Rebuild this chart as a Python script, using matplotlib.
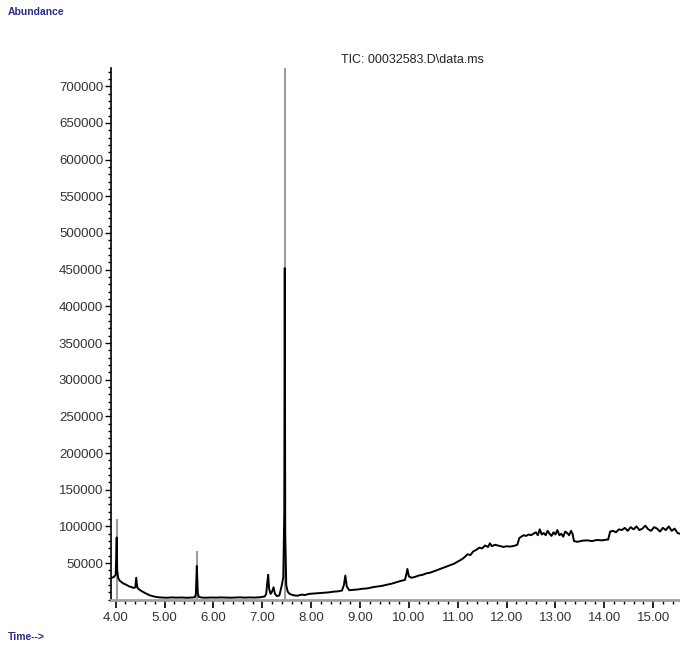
import matplotlib.pyplot as plt
from matplotlib.ticker import MultipleLocator, FormatStrFormatter

# retention time (min) and abundance
seg_start_t = [3.92, 3.96, 4.00, 4.02, 4.03, 4.05, 4.08, 4.12, 4.16, 4.20, 4.24, 4.28,
               4.32, 4.36, 4.40, 4.42, 4.44, 4.48, 4.55, 4.62, 4.70, 4.78, 4.86, 4.95]
seg_start_v = [30000, 31000, 34000, 85000, 40000, 30000, 26000, 24000, 22000, 21000, 19500, 18000,
               17500, 16000, 17000, 30000, 17000, 14000, 11000, 8500, 6000, 4500, 3500, 3000]

seg_flat_t = [5.05, 5.15, 5.25, 5.35, 5.45, 5.55, 5.62, 5.64, 5.66, 5.68, 5.70, 5.76, 5.85,
              5.95, 6.05, 6.15, 6.25, 6.35, 6.45, 6.55, 6.65, 6.75, 6.85, 6.95, 7.05]
seg_flat_v = [2800, 3200, 2900, 3100, 2700, 3000, 3300, 8000, 46000, 9000, 4000, 3000, 2800,
              3100, 2900, 3200, 3000, 2800, 3100, 3300, 2900, 3200, 3000, 3400, 4500]

seg_main_t = [7.08, 7.10, 7.12, 7.14, 7.17, 7.20, 7.23, 7.26, 7.30, 7.35, 7.40, 7.43,
              7.45, 7.46, 7.47, 7.49, 7.52, 7.56, 7.60]
seg_main_v = [8000, 22000, 34000, 15000, 8000, 11000, 17000, 8000, 5000, 6000, 20000, 31000,
              120000, 452000, 90000, 20000, 11000, 8000, 7000]

seg_rise_t = [7.65, 7.72, 7.80, 7.88, 7.95, 8.05, 8.15, 8.25, 8.35, 8.45, 8.55, 8.63, 8.67,
              8.70, 8.73, 8.78, 8.85, 8.95, 9.05, 9.15, 9.25, 9.35, 9.45, 9.55, 9.65, 9.75,
              9.85, 9.92, 9.95, 9.97, 10.00, 10.05, 10.12, 10.20, 10.28, 10.36, 10.44, 10.52,
              10.60, 10.68, 10.76, 10.84, 10.92, 11.00, 11.08, 11.14, 11.20, 11.26, 11.32,
              11.38, 11.44, 11.50, 11.56, 11.62, 11.66, 11.70, 11.76, 11.82, 11.88, 11.94,
              12.00, 12.06, 12.12, 12.18, 12.22]
seg_rise_v = [6000, 5500, 7000, 6500, 8000, 8500, 9000, 9500, 10000, 11000, 11500, 12500, 20000,
              33000, 18000, 13000, 13500, 14000, 15000, 15500, 17000, 18000, 19000, 20500, 22000, 24000,
              26000, 27000, 35000, 42000, 32000, 30000, 31000, 33000, 34000, 36000, 37000, 39000,
              41000, 43000, 45000, 47000, 49000, 52000, 55000, 58000, 62000, 61000, 66000,
              68000, 71000, 70000, 74000, 72000, 77000, 73000, 75000, 74000, 73000, 72000,
              73000, 72500, 73000, 74000, 75000]

seg_high1_t = [12.26, 12.30, 12.35, 12.40, 12.45, 12.50, 12.55, 12.60, 12.64, 12.68, 12.72,
               12.76, 12.80, 12.84, 12.88, 12.92, 12.96, 13.00, 13.04, 13.08, 13.12, 13.16,
               13.20, 13.24, 13.28, 13.32, 13.35]
seg_high1_v = [84000, 86000, 88000, 87000, 89000, 88000, 90000, 92000, 88000, 96000, 89000,
               91000, 88000, 94000, 90000, 87000, 92000, 89000, 95000, 88000, 90000, 86000,
               93000, 91000, 88000, 94000, 90000]

seg_dip_t = [13.38, 13.45, 13.55, 13.65, 13.75, 13.85, 13.95, 14.05, 14.08]
seg_dip_v = [80000, 79000, 80500, 81000, 80000, 81500, 81000, 82000, 82000]

seg_high2_t = [14.12, 14.18, 14.24, 14.30, 14.36, 14.42, 14.48, 14.54, 14.60, 14.66, 14.72,
               14.78, 14.84, 14.90, 14.96, 15.02, 15.08, 15.14, 15.20, 15.26, 15.32, 15.38,
               15.44, 15.50, 15.55]
seg_high2_v = [93000, 94000, 92000, 96000, 95000, 98000, 94000, 99000, 96000, 100000, 95000,
               97000, 101000, 96000, 94000, 99000, 97000, 93000, 98000, 95000, 100000, 94000,
               97000, 91000, 90000]

# apex values of the three big peaks (grey overdraw in the original)
apex_t = [4.02, 5.66, 7.46]
apex_v = [110000, 66000, 725000]

times = seg_start_t + seg_flat_t + seg_main_t + seg_rise_t + seg_high1_t + seg_dip_t + seg_high2_t
abund = seg_start_v + seg_flat_v + seg_main_v + seg_rise_v + seg_high1_v + seg_dip_v + seg_high2_v

label_blue = '#2b2b8c'

fig = plt.figure(figsize=(6.8, 6.47), dpi=100)
ax = fig.add_axes([0.163, 0.073, 0.837, 0.822])

ax.vlines(apex_t, 0, apex_v, color='#9a9a9a', lw=1.4, zorder=1)
ax.plot(times, abund, color='black', lw=1.4, zorder=2)

ax.set_xlim(3.9, 15.55)
ax.set_ylim(0, 725000)

ax.xaxis.set_major_locator(MultipleLocator(1.0))
ax.xaxis.set_minor_locator(MultipleLocator(0.2))
ax.xaxis.set_major_formatter(FormatStrFormatter('%.2f'))
ax.yaxis.set_minor_locator(MultipleLocator(10000))
ax.set_yticks(range(50000, 700001, 50000))

for s in ['top', 'right']:
    ax.spines[s].set_visible(False)
ax.spines['left'].set_linewidth(1.2)
ax.spines['bottom'].set_color('#a0a0a0')
ax.spines['bottom'].set_linewidth(2.0)

ax.tick_params(axis='both', which='major', labelsize=9.5, color='black', labelcolor='#333333')
ax.tick_params(axis='y', which='major', length=4, width=1, pad=1.5)
ax.tick_params(axis='y', which='minor', length=2, width=1)
ax.tick_params(axis='x', which='major', length=6, width=1.2, pad=3)
ax.tick_params(axis='x', which='minor', length=3, width=1)
for lab in ax.get_xticklabels() + ax.get_yticklabels():
    lab.set_family('Liberation Sans')

fig.text(0.607, 0.907, 'TIC: 00032583.D\\data.ms', ha='center', va='center',
         fontsize=9, family='Liberation Sans', color='#222222')
fig.text(0.012, 0.982, 'Abundance', ha='left', va='center', fontsize=7.5,
         family='Liberation Sans', color=label_blue, fontweight='bold')
fig.text(0.012, 0.016, 'Time-->', ha='left', va='center', fontsize=7.5,
         family='Liberation Sans', color=label_blue, fontweight='bold')

fig.savefig('out.png', dpi=100)
